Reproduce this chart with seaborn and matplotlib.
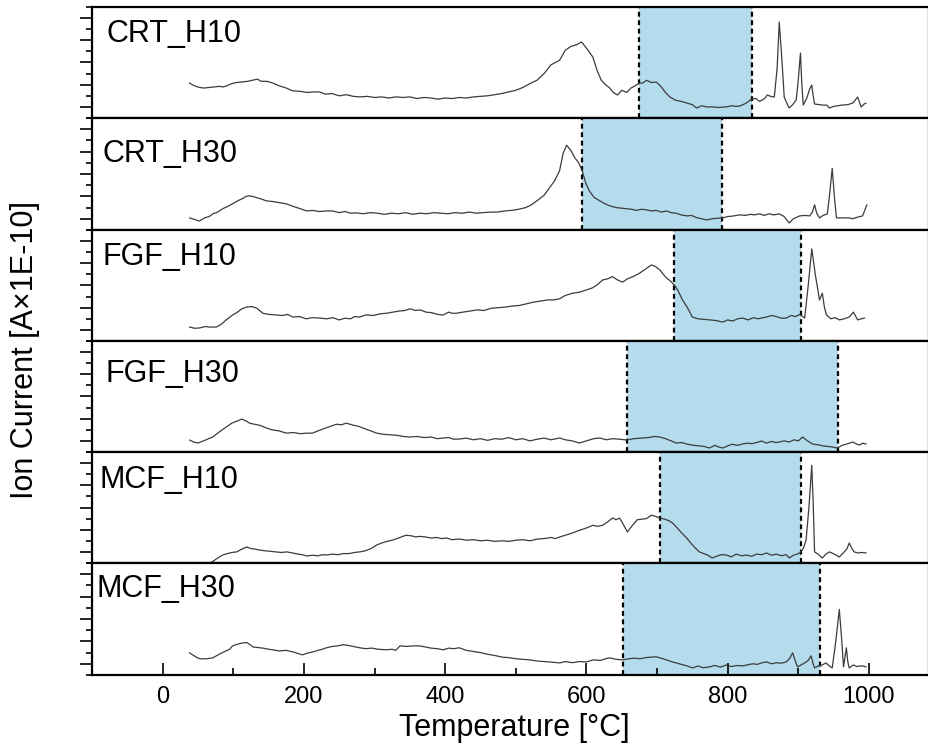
import matplotlib
matplotlib.use('Agg')
import matplotlib.pyplot as plt
import seaborn as sns
import pandas as pd
from matplotlib.ticker import FixedLocator

# ---------------- data ----------------
panel_names = ["CRT_H10", "CRT_H30", "FGF_H10", "FGF_H30", "MCF_H10", "MCF_H30"]

crt_h10_T = [38, 45, 52, 59, 66, 73, 80, 86, 91, 98, 105, 112, 120, 127, 134, 140, 148, 156, 165, 175, 184, 195, 205, 215, 222, 230, 240, 250, 260, 270, 279, 290, 300, 310, 320, 330, 340, 350, 360, 370, 380, 390, 400, 410, 420, 430, 440, 450, 460, 470, 480, 490, 500, 510, 520, 530, 540, 550, 556, 562, 570, 578, 586, 593, 600, 609, 615, 621, 627, 633, 638, 644, 650, 657, 663, 669, 675, 680, 685, 692, 699, 706, 712, 718, 726, 734, 742, 750, 756, 763, 770, 778, 786, 798, 806, 812, 817, 825, 834, 840, 845, 849, 853, 856, 861, 866, 870, 873, 877, 880, 884, 887, 892, 897, 900, 903, 905, 907, 912, 916, 919, 921, 923, 930, 936, 940, 944, 950, 956, 962, 970, 977, 984, 989, 993, 996]
crt_h10_v = [3.15, 2.9, 2.75, 2.7, 2.75, 2.8, 2.85, 2.8, 2.9, 3.1, 3.2, 3.25, 3.3, 3.4, 3.5, 3.3, 3.3, 3.15, 2.9, 2.7, 2.45, 2.4, 2.3, 2.35, 2.35, 2.15, 2.2, 2.0, 2.1, 1.95, 1.9, 1.95, 1.85, 1.9, 1.8, 1.9, 1.85, 1.9, 1.75, 1.85, 1.8, 1.7, 1.8, 1.75, 1.85, 1.8, 1.9, 1.95, 2.0, 2.1, 2.2, 2.35, 2.5, 2.75, 3.1, 3.4, 4.0, 4.8, 5.0, 5.2, 6.1, 6.45, 6.6, 6.85, 6.3, 5.5, 4.3, 3.4, 3.0, 2.7, 2.3, 2.07, 2.5, 2.3, 2.7, 2.9, 3.15, 3.15, 3.4, 3.2, 3.24, 2.8, 2.3, 1.9, 1.6, 1.5, 1.35, 1.2, 0.9, 1.1, 1.0, 1.0, 0.95, 1.0, 1.1, 1.05, 1.08, 1.3, 1.71, 1.75, 1.5, 1.62, 1.8, 2.07, 1.95, 1.89, 4.5, 8.65, 5.0, 1.89, 1.3, 0.9, 1.2, 1.62, 3.5, 5.85, 3.0, 1.17, 1.8, 2.6, 2.97, 2.0, 1.26, 1.2, 1.15, 1.17, 0.9, 1.05, 1.1, 1.17, 1.2, 1.35, 1.89, 0.99, 1.25, 1.35]

crt_h30_T = [38, 45, 52, 60, 66, 71, 78, 85, 92, 99, 106, 113, 118, 123, 130, 138, 147, 155, 165, 175, 185, 195, 204, 212, 222, 232, 241, 250, 258, 266, 274, 284, 294, 304, 314, 324, 334, 344, 354, 364, 374, 384, 394, 404, 414, 424, 434, 444, 454, 464, 474, 484, 494, 504, 514, 522, 532, 540, 548, 555, 562, 567, 572, 578, 583, 589, 594, 599, 604, 611, 619, 626, 633, 642, 650, 657, 664, 671, 678, 685, 692, 699, 706, 713, 720, 727, 734, 742, 749, 756, 763, 770, 778, 786, 793, 800, 808, 817, 825, 832, 838, 845, 852, 858, 865, 873, 880, 887, 893, 898, 902, 909, 916, 920, 923, 926, 930, 935, 941, 944, 948, 951, 954, 962, 972, 977, 984, 991, 997]
crt_h30_v = [1.08, 0.95, 0.8, 1.1, 1.2, 1.44, 1.6, 1.9, 2.1, 2.34, 2.6, 2.8, 3.0, 3.06, 2.95, 2.8, 2.6, 2.55, 2.45, 2.34, 2.1, 1.9, 1.7, 1.75, 1.65, 1.7, 1.7, 1.55, 1.65, 1.5, 1.53, 1.45, 1.55, 1.5, 1.4, 1.5, 1.45, 1.55, 1.4, 1.5, 1.45, 1.55, 1.5, 1.45, 1.55, 1.5, 1.6, 1.5, 1.55, 1.6, 1.6, 1.7, 1.75, 1.85, 2.0, 2.25, 2.7, 3.1, 3.8, 4.4, 5.3, 6.85, 7.57, 7.1, 6.5, 6.0, 5.3, 4.2, 3.5, 2.9, 2.6, 2.35, 2.16, 2.0, 1.95, 1.9, 1.85, 1.75, 1.85, 1.8, 1.7, 1.75, 1.6, 1.7, 1.55, 1.5, 1.35, 1.26, 1.3, 1.1, 1.0, 0.9, 1.0, 1.05, 1.08, 1.2, 1.25, 1.35, 1.3, 1.4, 1.35, 1.44, 1.3, 1.45, 1.35, 1.44, 1.2, 0.63, 1.0, 1.15, 1.26, 1.3, 1.26, 1.6, 2.25, 1.5, 1.08, 1.3, 1.44, 3.0, 5.5, 3.0, 1.08, 1.08, 1.08, 1.0, 1.15, 1.26, 2.25]

fgf_h10_T = [38, 45, 52, 60, 68, 76, 83, 90, 99, 106, 112, 119, 126, 133, 138, 142, 150, 161, 170, 177, 184, 194, 203, 212, 222, 232, 241, 250, 258, 266, 272, 279, 288, 298, 308, 317, 326, 335, 343, 350, 358, 365, 373, 381, 389, 397, 405, 410, 416, 425, 435, 445, 455, 465, 475, 485, 495, 505, 515, 525, 535, 545, 553, 562, 570, 580, 590, 600, 609, 616, 623, 630, 637, 644, 651, 658, 666, 675, 684, 692, 698, 704, 709, 713, 719, 725, 730, 736, 743, 750, 758, 766, 774, 783, 793, 800, 807, 814, 821, 829, 836, 843, 850, 855, 862, 869, 876, 883, 890, 896, 902, 909, 914, 919, 924, 930, 934, 937, 940, 946, 952, 958, 965, 972, 978, 984, 989, 994]
fgf_h10_v = [1.26, 1.15, 1.17, 1.3, 1.25, 1.26, 1.5, 1.9, 2.34, 2.6, 2.9, 3.06, 3.1, 2.97, 2.7, 2.5, 2.4, 2.34, 2.3, 2.4, 2.16, 2.2, 2.0, 2.1, 2.07, 2.0, 2.1, 1.9, 2.05, 2.0, 2.2, 2.16, 2.35, 2.3, 2.45, 2.5, 2.6, 2.7, 2.75, 2.9, 2.75, 2.8, 2.6, 2.55, 2.4, 2.34, 2.6, 2.5, 2.5, 2.6, 2.7, 2.8, 2.75, 2.95, 3.0, 3.05, 3.15, 3.2, 3.35, 3.5, 3.6, 3.7, 3.7, 3.8, 4.1, 4.3, 4.4, 4.6, 4.8, 5.1, 5.5, 5.6, 5.8, 5.5, 5.3, 5.6, 5.8, 6.1, 6.5, 6.85, 6.7, 6.4, 6.0, 5.7, 5.4, 5.0, 4.5, 3.7, 3.0, 2.16, 2.0, 1.95, 1.9, 1.85, 1.7, 1.9, 1.8, 2.0, 2.07, 1.9, 2.1, 2.0, 2.1, 2.16, 2.3, 2.2, 2.05, 2.07, 2.3, 2.2, 2.4, 2.07, 5.0, 8.3, 6.0, 3.7, 4.3, 3.0, 2.34, 2.0, 2.1, 1.9, 2.0, 2.16, 2.6, 1.9, 2.0, 2.07]

fgf_h30_T = [38, 44, 50, 58, 65, 71, 80, 90, 98, 106, 112, 118, 123, 130, 138, 147, 155, 165, 175, 185, 195, 204, 212, 220, 228, 237, 246, 253, 260, 269, 278, 286, 295, 303, 312, 322, 332, 341, 350, 360, 370, 380, 389, 397, 405, 412, 420, 430, 440, 450, 460, 470, 480, 490, 500, 510, 520, 530, 540, 550, 562, 570, 580, 590, 600, 610, 619, 628, 637, 647, 657, 667, 677, 688, 696, 704, 712, 720, 727, 735, 743, 752, 760, 767, 774, 782, 787, 793, 800, 806, 814, 821, 828, 834, 841, 848, 855, 862, 868, 873, 880, 887, 894, 900, 906, 913, 920, 928, 935, 942, 948, 955, 962, 970, 977, 983, 987, 991, 996]
fgf_h30_v = [1.08, 0.9, 0.81, 1.0, 1.2, 1.35, 1.8, 2.25, 2.6, 2.8, 2.97, 2.8, 2.6, 2.5, 2.4, 2.16, 2.0, 1.9, 1.7, 1.75, 1.65, 1.7, 1.7, 1.9, 2.1, 2.3, 2.5, 2.45, 2.6, 2.43, 2.3, 2.1, 1.9, 1.7, 1.6, 1.55, 1.5, 1.4, 1.35, 1.4, 1.3, 1.35, 1.2, 1.26, 1.3, 1.15, 1.17, 1.25, 1.1, 1.2, 1.05, 1.2, 1.15, 1.3, 1.1, 1.2, 1.0, 1.15, 1.25, 1.1, 1.26, 1.1, 1.0, 0.81, 1.0, 1.2, 1.26, 1.1, 1.2, 1.15, 1.08, 1.2, 1.25, 1.3, 1.4, 1.35, 1.2, 1.0, 0.81, 0.85, 0.7, 0.6, 0.55, 0.5, 0.36, 0.6, 0.45, 0.36, 0.55, 0.7, 0.6, 0.72, 0.8, 0.75, 0.85, 0.99, 0.8, 0.95, 0.85, 0.9, 1.0, 0.9, 1.1, 1.0, 1.35, 1.0, 0.72, 0.65, 0.55, 0.5, 0.45, 0.36, 0.6, 0.75, 0.9, 0.7, 0.63, 0.8, 0.72]

mcf_h10_T = [62, 70, 78, 85, 92, 98, 105, 112, 119, 125, 131, 137, 145, 153, 161, 168, 176, 184, 192, 198, 204, 212, 220, 227, 232, 240, 248, 256, 264, 272, 279, 287, 295, 303, 310, 318, 326, 334, 340, 345, 352, 358, 365, 373, 380, 388, 395, 402, 410, 420, 430, 440, 450, 460, 470, 480, 490, 500, 510, 520, 530, 540, 550, 556, 562, 570, 580, 588, 595, 602, 609, 616, 623, 630, 637, 642, 647, 652, 658, 664, 672, 678, 685, 692, 698, 704, 711, 717, 722, 728, 735, 742, 749, 755, 760, 766, 772, 778, 784, 791, 798, 805, 812, 820, 827, 834, 841, 848, 855, 862, 869, 876, 883, 887, 893, 898, 902, 907, 911, 915, 919, 921, 923, 928, 934, 939, 944, 951, 958, 965, 969, 972, 976, 979, 985, 990, 996]
mcf_h10_v = [-0.2, 0.1, 0.45, 0.72, 0.85, 0.95, 1.0, 1.25, 1.44, 1.3, 1.25, 1.17, 1.1, 1.05, 1.0, 0.95, 1.0, 0.9, 0.8, 0.75, 0.63, 0.7, 0.65, 0.75, 0.72, 0.8, 0.75, 0.85, 0.85, 0.95, 1.0, 1.1, 1.3, 1.62, 1.8, 1.95, 2.07, 2.25, 2.4, 2.5, 2.45, 2.35, 2.4, 2.34, 2.25, 2.3, 2.2, 2.25, 2.1, 2.16, 2.05, 2.1, 2.0, 2.05, 1.95, 2.0, 1.95, 2.05, 2.1, 2.0, 2.15, 2.2, 2.3, 2.2, 2.34, 2.5, 2.7, 2.9, 3.05, 3.2, 3.4, 3.3, 3.4, 3.7, 4.05, 3.9, 4.05, 3.5, 2.8, 3.3, 3.9, 3.95, 4.0, 4.3, 4.2, 4.05, 3.95, 3.8, 3.6, 3.2, 2.7, 2.25, 1.7, 1.3, 1.0, 0.85, 0.7, 0.45, 0.6, 0.75, 0.72, 0.55, 0.8, 0.65, 0.72, 0.6, 0.8, 0.75, 0.9, 0.7, 0.8, 0.65, 0.75, 0.45, 0.7, 0.8, 0.9, 1.3, 2.07, 5.0, 8.8, 5.5, 1.0, 0.8, 0.45, 0.8, 1.0, 0.8, 0.54, 1.0, 1.3, 1.8, 1.3, 1.0, 0.9, 0.95, 0.9]

mcf_h30_T = [38, 45, 50, 55, 62, 71, 80, 90, 95, 99, 106, 112, 119, 124, 128, 135, 142, 150, 156, 165, 175, 184, 190, 198, 205, 212, 220, 226, 232, 240, 248, 255, 262, 270, 279, 288, 296, 305, 317, 325, 330, 336, 345, 355, 364, 372, 380, 389, 397, 405, 412, 420, 430, 440, 450, 460, 470, 480, 490, 500, 510, 520, 530, 540, 550, 562, 570, 580, 590, 600, 610, 620, 627, 633, 642, 651, 660, 668, 676, 684, 692, 699, 706, 713, 720, 727, 735, 743, 750, 758, 765, 774, 782, 790, 798, 805, 813, 821, 828, 835, 842, 849, 855, 862, 869, 876, 883, 888, 892, 896, 899, 904, 909, 914, 918, 921, 923, 928, 934, 939, 944, 948, 953, 958, 961, 964, 966, 968, 970, 972, 978, 983, 987, 992, 996]
mcf_h30_v = [1.98, 1.7, 1.5, 1.44, 1.45, 1.53, 1.85, 2.16, 2.3, 2.6, 2.75, 2.85, 2.9, 2.7, 2.5, 2.45, 2.4, 2.3, 2.25, 2.15, 2.2, 2.07, 1.95, 1.8, 1.95, 2.05, 2.2, 2.3, 2.43, 2.55, 2.6, 2.7, 2.65, 2.55, 2.43, 2.35, 2.4, 2.3, 2.25, 2.3, 2.2, 2.6, 2.55, 2.6, 2.6, 2.5, 2.4, 2.35, 2.25, 2.4, 2.35, 2.43, 2.2, 2.1, 2.0, 1.85, 1.75, 1.6, 1.55, 1.45, 1.4, 1.35, 1.25, 1.2, 1.15, 1.08, 1.2, 1.1, 1.2, 1.17, 1.35, 1.3, 1.45, 1.53, 1.4, 1.35, 1.45, 1.5, 1.45, 1.55, 1.6, 1.62, 1.5, 1.35, 1.2, 1.08, 0.95, 0.8, 0.63, 0.8, 0.65, 0.72, 0.85, 0.7, 0.9, 0.75, 0.85, 0.81, 0.9, 1.0, 0.95, 1.1, 1.17, 1.0, 1.1, 1.05, 1.17, 1.5, 1.98, 1.2, 0.72, 0.9, 1.08, 1.3, 1.71, 1.0, 0.63, 0.8, 0.9, 1.08, 0.8, 0.63, 3.0, 5.85, 3.5, 0.72, 1.6, 2.43, 1.2, 0.63, 0.9, 0.75, 0.81, 0.8, 0.72]

series_T = [crt_h10_T, crt_h30_T, fgf_h10_T, fgf_h30_T, mcf_h10_T, mcf_h30_T]
series_v = [crt_h10_v, crt_h30_v, fgf_h10_v, fgf_h30_v, mcf_h10_v, mcf_h30_v]

span_start = [675, 594, 724, 657, 704, 652]
span_end = [835, 792, 904, 956, 904, 931]

x_major_ticks = [0, 200, 400, 600, 800, 1000]
x_minor_ticks = [100, 300, 500, 700, 900]

# ---------------- style ----------------
sns.set_theme(style="white")
plt.rcParams['font.family'] = ['Liberation Sans', 'DejaVu Sans']

W, H = 929, 751
fig = plt.figure(figsize=(W / 100, H / 100), dpi=100)

tops = [7, 118, 230, 341, 452, 563, 675]
label_pos = [(107, 42), (103, 162), (103, 265), (106, 382), (100, 488), (97, 597)]
left_px = 92

for i, name in enumerate(panel_names):
    top, bot = tops[i], tops[i + 1]
    ax = fig.add_axes([left_px / W, 1 - bot / H, (W - left_px) / W, (bot - top) / H])
    df = pd.DataFrame({"T": series_T[i], "v": series_v[i]})
    ax.axvspan(span_start[i], span_end[i], color="#b4dcec", zorder=0, lw=0)
    for xv in (span_start[i], span_end[i]):
        ax.axvline(xv, color="black", lw=1.6, ls=(0, (2.2, 1.6)), zorder=1)
    sns.lineplot(data=df, x="T", y="v", ax=ax, color="#3c3c3c", linewidth=0.9,
                 estimator=None, sort=False, zorder=3)
    ax.set_xlim(-100, 1085)
    ax.set_ylim(0, 10)
    ax.set_xlabel("")
    ax.set_ylabel("")
    for sp in ax.spines.values():
        sp.set_linewidth(1.6)
        sp.set_color("black")
    ax.yaxis.set_major_locator(FixedLocator([1, 3, 5, 7, 9]))
    ax.yaxis.set_minor_locator(FixedLocator([0, 2, 4, 6, 8, 10]))
    ax.tick_params(axis="y", which="major", left=True, direction="out", length=8.5,
                   width=1.2, color="black", labelleft=False)
    ax.tick_params(axis="y", which="minor", left=True, direction="out", length=4.5,
                   width=1.2, color="black")
    if i == len(panel_names) - 1:
        ax.xaxis.set_major_locator(FixedLocator(x_major_ticks))
        ax.xaxis.set_minor_locator(FixedLocator(x_minor_ticks))
        ax.tick_params(axis="x", which="major", bottom=True, direction="in", length=8.5,
                       width=1.2, color="black", labelsize=17, pad=8, labelcolor="black")
        ax.tick_params(axis="x", which="minor", bottom=True, direction="in", length=5,
                       width=1.2, color="black")
    else:
        ax.set_xticks([])
    fig.text(label_pos[i][0] / W, 1 - label_pos[i][1] / H, name, fontsize=22,
             ha="left", va="baseline", color="black")

fig.text(514 / W, 1 - 728 / H, "Temperature [°C]", fontsize=22, ha="center", va="center",
         color="black")
fig.text(25 / W, 1 - 350 / H, "Ion Current [A×1E-10]", fontsize=22, rotation=90,
         ha="center", va="center", color="black")

fig.savefig("out.png", dpi=100)
